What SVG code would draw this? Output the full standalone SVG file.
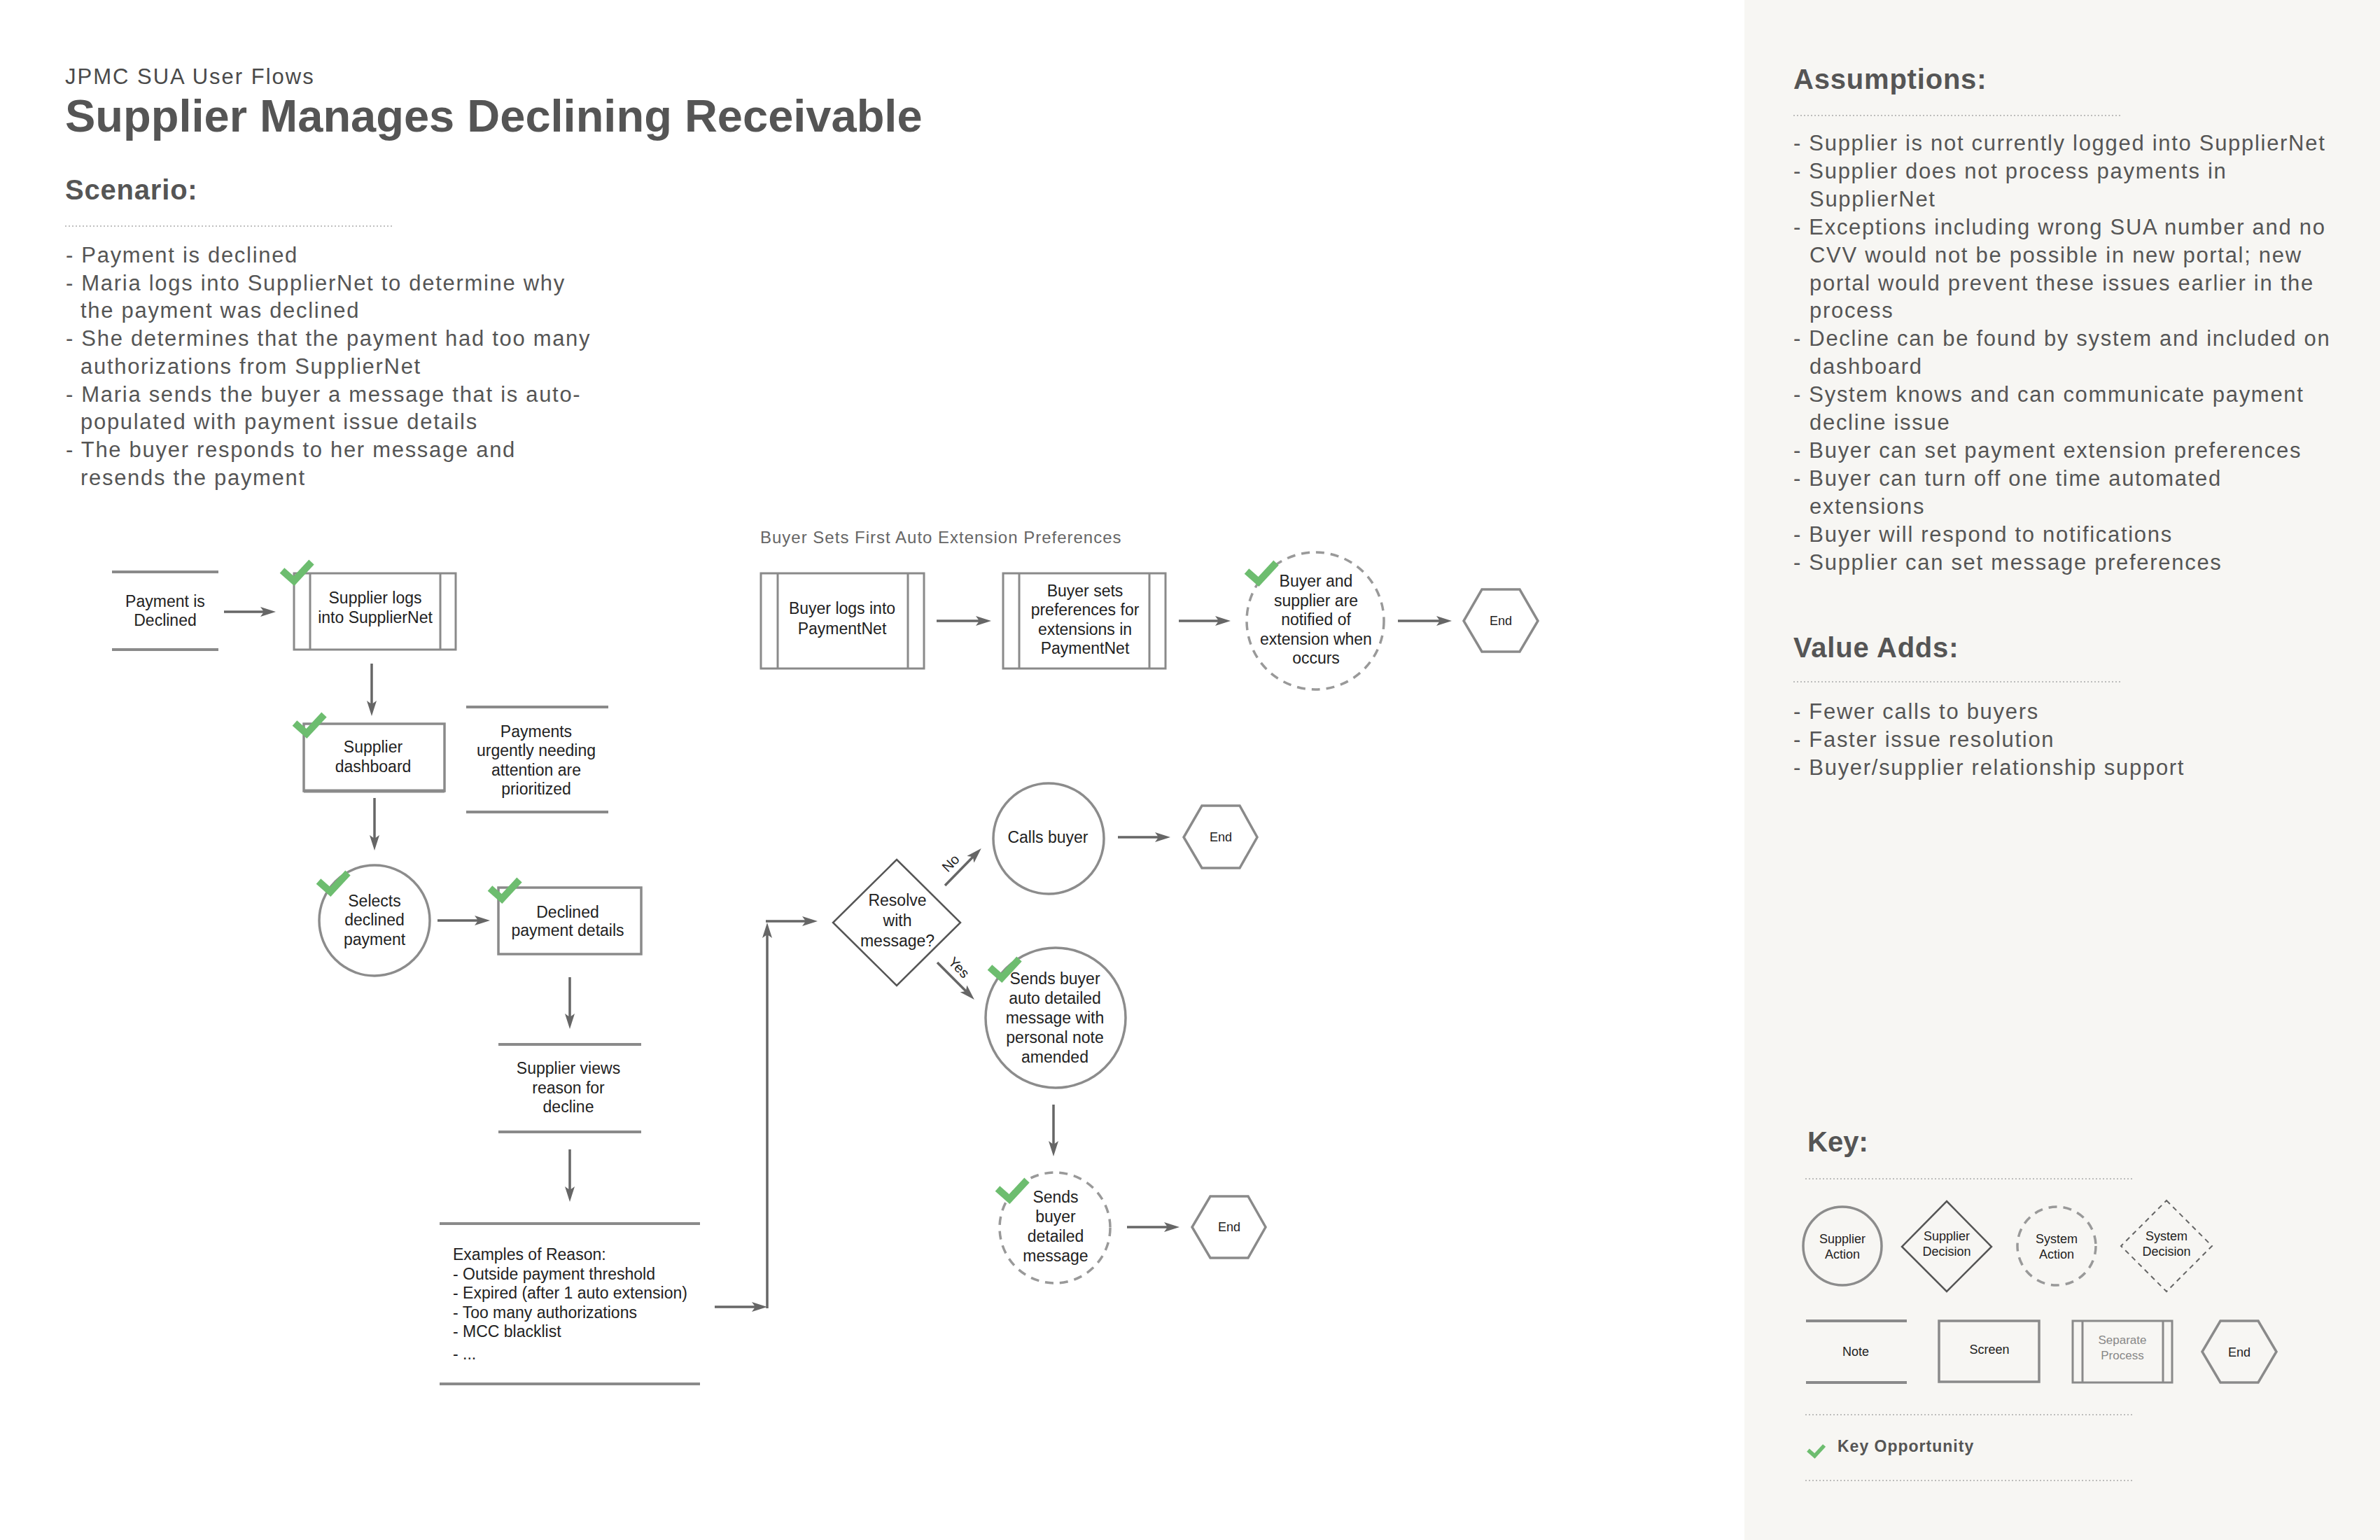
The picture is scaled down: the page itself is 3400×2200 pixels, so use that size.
<svg xmlns="http://www.w3.org/2000/svg" width="3400" height="2200" viewBox="0 0 3400 2200">
<style>
text{font-family:"Liberation Sans",Arial,Helvetica,sans-serif}
.h1{font-size:31px;fill:#4a4a4a;letter-spacing:2px}
.title{font-size:65px;font-weight:bold;fill:#555}
.sec{font-size:40px;font-weight:bold;fill:#555;letter-spacing:0.8px}
.body{font-size:31px;fill:#555;letter-spacing:1.7px}
.nt{font-size:23px;fill:#222;text-anchor:middle}
.nl{font-size:23px;fill:#222}
.end{font-size:18px;fill:#222;text-anchor:middle}
.sub{font-size:24px;fill:#666;letter-spacing:1px}
.kt{font-size:18px;fill:#222;text-anchor:middle}
.box{fill:none;stroke:#8a8a8a;stroke-width:3.5}
.sep{fill:none;stroke:#8a8a8a;stroke-width:3}
.note{stroke:#8a8a8a;stroke-width:4}
.circ{fill:none;stroke:#8c8c8c;stroke-width:3.5}
.dcirc{fill:none;stroke:#999;stroke-width:3.5;stroke-dasharray:12 9}
.dia{fill:none;stroke:#555;stroke-width:2.5}
.hex{fill:none;stroke:#8a8a8a;stroke-width:3.5}
.dot{stroke:#aaa;stroke-width:1.5;stroke-dasharray:2 3}
.arr{stroke:#666;stroke-width:3.5;fill:none;marker-end:url(#ah)}
</style>
<defs>
<marker id="ah" viewBox="0 0 22 14" refX="8" refY="7" markerWidth="22" markerHeight="14" markerUnits="userSpaceOnUse" orient="auto"><path d="M0,0 L22,7 L0,14 L5,7 z" fill="#666"/></marker>
<path id="chk" d="M0,12 L17,27 L42,0" fill="none" stroke="#6dbd6f" stroke-width="10"/>
</defs>
<rect x="0" y="0" width="3400" height="2200" fill="#ffffff"/>
<rect x="2492" y="0" width="908" height="2200" fill="#f7f6f3"/>

<!-- Header -->
<g id="header">
<text class="h1" x="93" y="120">JPMC SUA User Flows</text>
<text class="title" x="93" y="188">Supplier Manages Declining Receivable</text>
<text class="sec" x="93" y="285">Scenario:</text>
<line class="dot" x1="93" y1="323" x2="561" y2="323"/>
<text class="body">
<tspan x="94" y="375">- Payment is declined</tspan>
<tspan x="94" y="414.7">- Maria logs into SupplierNet to determine why</tspan>
<tspan x="115" y="454.4">the payment was declined</tspan>
<tspan x="94" y="494.1">- She determines that the payment had too many</tspan>
<tspan x="115" y="533.8">authorizations from SupplierNet</tspan>
<tspan x="94" y="573.5">- Maria sends the buyer a message that is auto-</tspan>
<tspan x="115" y="613.2">populated with payment issue details</tspan>
<tspan x="94" y="652.9">- The buyer responds to her message and</tspan>
<tspan x="115" y="692.6">resends the payment</tspan>
</text>
</g>

<!-- Right panel -->
<g id="assumptions">
<text class="sec" x="2562" y="127">Assumptions:</text>
<line class="dot" x1="2562" y1="165" x2="3029" y2="165"/>
<text class="body">
<tspan x="2562" y="215">- Supplier is not currently logged into SupplierNet</tspan>
<tspan x="2562" y="254.9">- Supplier does not process payments in</tspan>
<tspan x="2585" y="294.8">SupplierNet</tspan>
<tspan x="2562" y="334.7">- Exceptions including wrong SUA number and no</tspan>
<tspan x="2585" y="374.6">CVV would not be possible in new portal; new</tspan>
<tspan x="2585" y="414.5">portal would prevent these issues earlier in the</tspan>
<tspan x="2585" y="454.4">process</tspan>
<tspan x="2562" y="494.3">- Decline can be found by system and included on</tspan>
<tspan x="2585" y="534.2">dashboard</tspan>
<tspan x="2562" y="574.1">- System knows and can communicate payment</tspan>
<tspan x="2585" y="614">decline issue</tspan>
<tspan x="2562" y="653.9">- Buyer can set payment extension preferences</tspan>
<tspan x="2562" y="693.8">- Buyer can turn off one time automated</tspan>
<tspan x="2585" y="733.7">extensions</tspan>
<tspan x="2562" y="773.6">- Buyer will respond to notifications</tspan>
<tspan x="2562" y="813.5">- Supplier can set message preferences</tspan>
</text>
</g>
<g id="value-adds">
<text class="sec" x="2562" y="939">Value Adds:</text>
<line class="dot" x1="2562" y1="974" x2="3029" y2="974"/>
<text class="body">
<tspan x="2562" y="1027">- Fewer calls to buyers</tspan>
<tspan x="2562" y="1067">- Faster issue resolution</tspan>
<tspan x="2562" y="1107">- Buyer/supplier relationship support</tspan>
</text>
</g>

<!-- Key -->
<g id="key">
<text class="sec" x="2582" y="1645" style="letter-spacing:0">Key:</text>
<line class="dot" x1="2579" y1="1684" x2="3046" y2="1684"/>
<g id="key-supplier-action"><circle class="circ" cx="2632" cy="1780" r="56" stroke-width="4"/><text class="kt" x="2632" y="1776">Supplier</text><text class="kt" x="2632" y="1798">Action</text></g>
<g id="key-supplier-decision"><polygon class="dia" points="2781,1716 2845,1781 2781,1845 2717,1781"/><text class="kt" x="2781" y="1772">Supplier</text><text class="kt" x="2781" y="1794">Decision</text></g>
<g id="key-system-action"><circle class="dcirc" cx="2938" cy="1780" r="56" stroke="#888" stroke-width="4" stroke-dasharray="11 8"/><text class="kt" x="2938" y="1776">System</text><text class="kt" x="2938" y="1798">Action</text></g>
<g id="key-system-decision"><polygon points="3095,1715 3160,1780 3095,1845 3030,1780" fill="none" stroke="#666" stroke-width="2" stroke-dasharray="7 6"/><text class="kt" x="3095" y="1772">System</text><text class="kt" x="3095" y="1794">Decision</text></g>
<g id="key-note"><line class="note" x1="2580" y1="1887" x2="2724" y2="1887"/><line class="note" x1="2580" y1="1975" x2="2724" y2="1975"/><text class="kt" x="2651" y="1937">Note</text></g>
<g id="key-screen"><rect class="box" x="2770" y="1887" width="143" height="87"/><text class="kt" x="2842" y="1934">Screen</text></g>
<g id="key-separate"><rect class="sep" x="2961" y="1887" width="142" height="88" stroke-width="2.5"/><line class="sep" x1="2975" y1="1887" x2="2975" y2="1975" stroke-width="2.5"/><line class="sep" x1="3090" y1="1887" x2="3090" y2="1975" stroke-width="2.5"/><text class="kt" x="3032" y="1920" style="fill:#888;font-size:17px">Separate</text><text class="kt" x="3032" y="1942" style="fill:#888;font-size:17px">Process</text></g>
<g id="key-end"><polygon class="hex" stroke-width="4.5" points="3172,1887 3226,1887 3252,1931 3226,1975 3172,1975 3146,1931"/><text class="kt" x="3199" y="1938">End</text></g>
<line class="dot" x1="2579" y1="2021" x2="3046" y2="2021"/>
<use href="#chk" transform="translate(2583,2065) scale(0.55)"/>
<text x="2625" y="2074" style="font-size:23px;font-weight:bold;fill:#555;letter-spacing:1px">Key Opportunity</text>
<line class="dot" x1="2579" y1="2115" x2="3046" y2="2115"/>
</g>

<!-- Flow 1 nodes -->
<g id="n-payment-declined"><line class="note" x1="160" y1="817" x2="312" y2="817"/><line class="note" x1="160" y1="928" x2="312" y2="928"/><text class="nt" x="236" y="867">Payment is</text><text class="nt" x="236" y="894">Declined</text></g>
<g id="n-supplier-logs"><rect class="sep" x="420" y="819" width="231" height="109"/><line class="sep" x1="443" y1="819" x2="443" y2="928"/><line class="sep" x1="629" y1="819" x2="629" y2="928"/><text class="nt" x="536" y="862">Supplier logs</text><text class="nt" x="536" y="890">into SupplierNet</text><use href="#chk" x="403" y="803"/></g>
<g id="n-dashboard"><rect class="box" x="434" y="1034" width="201" height="96"/><line x1="434" y1="1130" x2="635" y2="1130" stroke="#8a8a8a" stroke-width="5"/><text class="nt" x="533" y="1075">Supplier</text><text class="nt" x="533" y="1103">dashboard</text><use href="#chk" x="421" y="1021"/></g>
<g id="n-urgent-note"><line class="note" x1="666" y1="1010" x2="869" y2="1010"/><line class="note" x1="666" y1="1160" x2="869" y2="1160"/><text class="nt" x="766" y="1053">Payments</text><text class="nt" x="766" y="1080">urgently needing</text><text class="nt" x="766" y="1108">attention are</text><text class="nt" x="766" y="1135">prioritized</text></g>
<g id="n-selects"><circle class="circ" cx="535" cy="1315" r="79"/><text class="nt" x="535" y="1295">Selects</text><text class="nt" x="535" y="1322">declined</text><text class="nt" x="535" y="1350">payment</text><use href="#chk" x="455" y="1247"/></g>
<g id="n-declined-details"><rect class="box" x="712" y="1268" width="204" height="95"/><text class="nt" x="811" y="1311">Declined</text><text class="nt" x="811" y="1337">payment details</text><use href="#chk" x="700" y="1257"/></g>
<g id="n-views-reason"><line class="note" x1="712" y1="1492" x2="916" y2="1492"/><line class="note" x1="712" y1="1617" x2="916" y2="1617"/><text class="nt" x="812" y="1534">Supplier views</text><text class="nt" x="812" y="1562">reason for</text><text class="nt" x="812" y="1589">decline</text></g>
<g id="n-examples"><line class="note" x1="628" y1="1748" x2="1000" y2="1748"/><line class="note" x1="628" y1="1977" x2="1000" y2="1977"/>
<text class="nl"><tspan x="647" y="1800">Examples of Reason:</tspan><tspan x="647" y="1827.5">- Outside payment threshold</tspan><tspan x="647" y="1855">- Expired (after 1 auto extension)</tspan><tspan x="647" y="1882.5">- Too many authorizations</tspan><tspan x="647" y="1910">- MCC blacklist</tspan><tspan x="647" y="1942">- ...</tspan></text></g>
<g id="n-resolve"><polygon class="dia" points="1281,1228 1372,1318 1281,1408 1190,1318"/><text class="nt" x="1282" y="1294">Resolve</text><text class="nt" x="1282" y="1323">with</text><text class="nt" x="1282" y="1352">message?</text></g>
<g id="n-calls-buyer"><circle class="circ" cx="1498" cy="1198" r="79"/><text class="nt" x="1497" y="1204">Calls buyer</text></g>
<g id="n-end1"><polygon class="hex" points="1717,1151 1771,1151 1796,1196 1771,1240 1717,1240 1691,1196"/><text class="end" x="1744" y="1202">End</text></g>
<g id="n-sends-auto"><circle class="circ" cx="1508" cy="1454" r="100"/><text class="nt" x="1507" y="1406">Sends buyer</text><text class="nt" x="1507" y="1434">auto detailed</text><text class="nt" x="1507" y="1462">message with</text><text class="nt" x="1507" y="1490">personal note</text><text class="nt" x="1507" y="1518">amended</text><use href="#chk" x="1414" y="1370"/></g>
<g id="n-sends-detailed"><circle class="dcirc" cx="1507" cy="1754" r="79"/><text class="nt" x="1508" y="1718">Sends</text><text class="nt" x="1508" y="1746">buyer</text><text class="nt" x="1508" y="1774">detailed</text><text class="nt" x="1508" y="1802">message</text><use href="#chk" x="1425" y="1686"/></g>
<g id="n-end2"><polygon class="hex" points="1729,1709 1783,1709 1808,1753 1783,1797 1729,1797 1703,1753"/><text class="end" x="1756" y="1759">End</text></g>

<!-- Flow 2 nodes -->
<g id="flow2-title"><text class="sub" x="1086" y="776">Buyer Sets First Auto Extension Preferences</text></g>
<g id="n-buyer-logs"><rect class="sep" x="1087" y="819" width="233" height="136"/><line class="sep" x1="1111" y1="819" x2="1111" y2="955"/><line class="sep" x1="1297" y1="819" x2="1297" y2="955"/><text class="nt" x="1203" y="877">Buyer logs into</text><text class="nt" x="1203" y="906">PaymentNet</text></g>
<g id="n-buyer-sets"><rect class="sep" x="1433" y="819" width="232" height="136"/><line class="sep" x1="1456" y1="819" x2="1456" y2="955"/><line class="sep" x1="1642" y1="819" x2="1642" y2="955"/><text class="nt" x="1550" y="852">Buyer sets</text><text class="nt" x="1550" y="879">preferences for</text><text class="nt" x="1550" y="907">extensions in</text><text class="nt" x="1550" y="934">PaymentNet</text></g>
<g id="n-notified"><circle class="dcirc" cx="1879" cy="887" r="98"/><text class="nt" x="1880" y="838">Buyer and</text><text class="nt" x="1880" y="866">supplier are</text><text class="nt" x="1880" y="893">notified of</text><text class="nt" x="1880" y="921">extension when</text><text class="nt" x="1880" y="948">occurs</text><use href="#chk" x="1781" y="804"/></g>
<g id="n-end3"><polygon class="hex" points="2117,842 2171,842 2197,887 2171,931 2117,931 2091,887"/><text class="end" x="2144" y="893">End</text></g>

<!-- Connectors -->
<g id="connectors">
<line class="arr" x1="320" y1="874" x2="380" y2="874"/>
<line class="arr" x1="531" y1="948" x2="531" y2="1009"/>
<line class="arr" x1="535" y1="1140" x2="535" y2="1201"/>
<line class="arr" x1="625" y1="1315" x2="686" y2="1315"/>
<line class="arr" x1="814" y1="1396" x2="814" y2="1456"/>
<line class="arr" x1="814" y1="1642" x2="814" y2="1703"/>
<line class="arr" x1="1021" y1="1867" x2="1082" y2="1867"/>
<line class="arr" x1="1096" y1="1869" x2="1096" y2="1332"/>
<line class="arr" x1="1094" y1="1316" x2="1154" y2="1316"/>
<line class="arr" x1="1350" y1="1265" x2="1392" y2="1222"/>
<line class="arr" x1="1339" y1="1375" x2="1382" y2="1418"/>
<line class="arr" x1="1597" y1="1196" x2="1658" y2="1196"/>
<line class="arr" x1="1505" y1="1578" x2="1505" y2="1638"/>
<line class="arr" x1="1610" y1="1753" x2="1671" y2="1753"/>
<line class="arr" x1="1338" y1="887" x2="1402" y2="887"/>
<line class="arr" x1="1684" y1="887" x2="1744" y2="887"/>
<line class="arr" x1="1997" y1="887" x2="2060" y2="887"/>
<text x="1358" y="1240" transform="rotate(-45 1358 1233)" style="font-size:20px;fill:#222;text-anchor:middle">No</text>
<text x="1370" y="1389" transform="rotate(45 1370 1382)" style="font-size:20px;fill:#222;text-anchor:middle">Yes</text>
</g>
</svg>
